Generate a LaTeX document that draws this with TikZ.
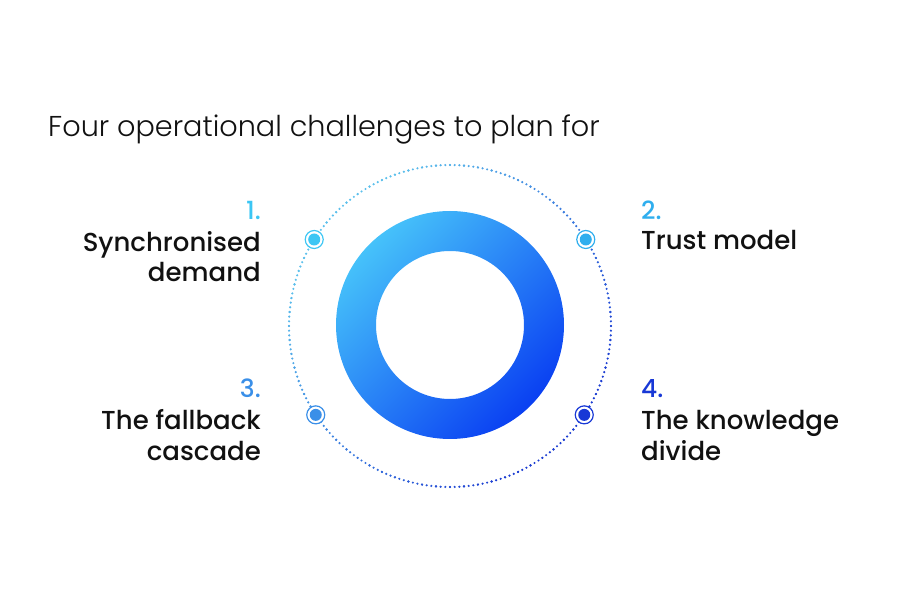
\documentclass[tikz,border=0pt]{standalone}
\usepackage{fontspec}
\setmainfont{Poppins}
\newfontfamily\headfont{Poppins Light}
\newfontfamily\labfont{Poppins Medium}
\definecolor{cA}{HTML}{3CC6F4}
\definecolor{cB}{HTML}{2FAEEE}
\definecolor{cC}{HTML}{3A8FE8}
\definecolor{cD}{HTML}{1838D6}
\definecolor{ringL}{HTML}{46C2FA}
\definecolor{ringM}{HTML}{2A8EF4}
\definecolor{ringD}{HTML}{0A40F2}
\definecolor{dotL}{HTML}{5CC0EC}
\definecolor{dotD}{HTML}{1B3CD2}
\definecolor{txt}{HTML}{111111}
\tikzset{
  head/.style={font=\headfont\fontsize{28.7}{28.7}\selectfont, text=txt, inner sep=0pt},
  lab/.style={font=\labfont\fontsize{26}{26}\selectfont, text=txt, inner sep=0pt},
  num/.style={font=\labfont\fontsize{25}{25}\selectfont, inner sep=0pt},
  marker/.style={circle, draw=#1, line width=1.2pt, fill=white, minimum size=18pt, inner sep=0pt},
  markdot/.style={circle, fill=#1, minimum size=12pt, inner sep=0pt}
}
\begin{document}
\begin{tikzpicture}[x=1pt,y=1pt]
\useasboundingbox (0,0) rectangle (900,600);
% gradient ring
\shade[top color=ringL, middle color=ringM, bottom color=ringD, shading angle=45, even odd rule]
  (450,275) circle (114) (450,275) circle (74);
% dotted circle with colour gradient
\coordinate (oc) at (450,274);
\foreach \a in {0,5,...,355}{
  \pgfmathsetmacro{\p}{max(0,min(100,50+55*(cos(\a+45))))}
  \draw[color=dotD!\p!dotL, line width=2.4pt, line cap=round, dash pattern=on 0pt off 4.68pt]
    ([shift={(\a:161)}]oc) arc[start angle=\a, end angle=\a+5, radius=161];
}
% markers
\node[marker=cA] (m1) at ([shift={(147.5:161)}]oc) {};
\node[markdot=cA] at (m1) {};
\node[marker=cB] (m2) at ([shift={(32.5:161)}]oc) {};
\node[markdot=cB] at (m2) {};
\node[marker=cC] (m3) at ([shift={(213.5:161)}]oc) {};
\node[markdot=cC] at (m3) {};
\node[marker=cD] (m4) at ([shift={(-33.5:161)}]oc) {};
\node[markdot=cD] at (m4) {};
% heading
\node[head, anchor=base west] (title) at (48,463) {Four operational challenges to plan for};
% labels
\node[num, text=cA, anchor=base east] (n1) at (261,380) {1.};
\node[lab, anchor=base east] (l1a) at (261,348) {Synchronised};
\node[lab, anchor=base east] (l1b) at (261,318) {demand};
\node[num, text=cB, anchor=base west] (n2) at (641,380) {2.};
\node[lab, anchor=base west] (l2a) at (641,350) {Trust model};
\node[num, text=cC, anchor=base east] (n3) at (261,202) {3.};
\node[lab, anchor=base east] (l3a) at (261,170) {The fallback};
\node[lab, anchor=base east] (l3b) at (261,139) {cascade};
\node[num, text=cD, anchor=base west] (n4) at (641,202) {4.};
\node[lab, anchor=base west] (l4a) at (641,170) {The knowledge};
\node[lab, anchor=base west] (l4b) at (641,139) {divide};
\end{tikzpicture}
\end{document}
